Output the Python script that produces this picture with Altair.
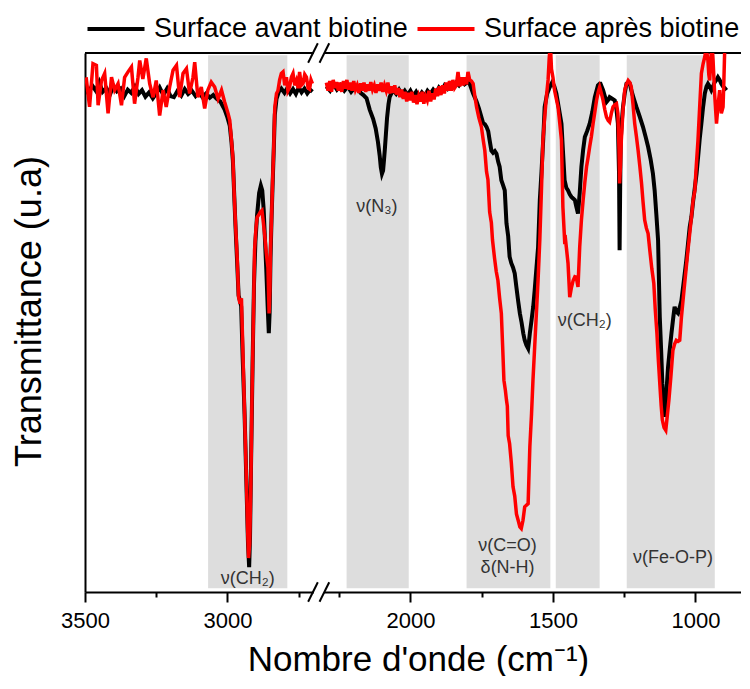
import altair as alt
import pandas as pd

FONT = "Liberation Sans, Arial, sans-serif"

# ---------------- data (wavenumber cm-1, transmittance in arbitrary units 0-100) ----------------
black_wn = [3500, 3488, 3475, 3462, 3450, 3438, 3425, 3412, 3400, 3388, 3375, 3362, 3350, 3338, 3325, 3312,
            3300, 3288, 3275, 3262, 3250, 3238, 3225, 3212, 3200, 3188, 3175, 3162, 3150, 3138, 3125, 3112,
            3100, 3088, 3075, 3062, 3050, 3038, 3025, 3010, 3000, 2992, 2986, 2981, 2977, 2972, 2969, 2966,
            2961, 2956, 2952, 2947, 2940, 2934, 2928, 2924, 2921, 2917, 2912, 2907, 2902, 2896, 2889, 2883,
            2878, 2873, 2869, 2864, 2859, 2855, 2852, 2849, 2845, 2842, 2838, 2834, 2828, 2820, 2811, 2800,
            2790, 2780, 2770, 2760, 2750, 2740, 2730, 2720, 2710, 2702,
            2295, 2282, 2270, 2258, 2245, 2232, 2220, 2208, 2195, 2184, 2175, 2165, 2154, 2143, 2131, 2122,
            2114, 2108, 2104, 2100, 2096, 2093, 2090, 2086, 2082, 2077, 2073, 2067, 2061, 2050, 2040, 2030,
            2020, 2010, 2000, 1990, 1980, 1970, 1960, 1950, 1940, 1930, 1920, 1910, 1900, 1890, 1880, 1870,
            1860, 1850, 1840, 1830, 1820, 1810, 1800, 1792, 1780, 1768, 1760, 1751, 1745, 1739, 1733, 1727,
            1722, 1716, 1710, 1704, 1698, 1692, 1687, 1681, 1675, 1669, 1663, 1657, 1652, 1646, 1640, 1634,
            1628, 1622, 1616, 1610, 1604, 1599, 1593, 1587, 1584, 1581, 1575, 1569, 1564, 1558, 1552, 1546,
            1540, 1534, 1529, 1520, 1511, 1502, 1495, 1488, 1480, 1470, 1465, 1459, 1453, 1447, 1441, 1435,
            1429, 1423, 1418, 1412, 1406, 1400, 1394, 1388, 1380, 1371, 1362, 1353, 1347, 1342, 1336, 1333,
            1324, 1318, 1312, 1306, 1301, 1292, 1283, 1277, 1272, 1268, 1266, 1264, 1262, 1258, 1254, 1248,
            1242, 1236, 1230, 1225, 1216, 1207, 1196, 1184, 1175, 1166, 1157, 1149, 1143, 1137, 1131, 1128,
            1125, 1120, 1116, 1112, 1108, 1104, 1100, 1096, 1090, 1084, 1078, 1073, 1067, 1061, 1055, 1049,
            1040, 1032, 1020, 1014, 1008, 1002, 996, 990, 985, 979, 973, 967, 961, 956, 950, 944,
            938, 932, 926, 921, 915, 909, 903, 897, 891]
black_t = [93.8, 92.5, 94.0, 93.0, 94.6, 92.8, 93.5, 92.3, 93.9, 92.9, 93.4, 92.0, 93.2, 92.6, 93.8, 92.4,
           93.1, 91.9, 92.7, 91.6, 92.5, 93.6, 92.2, 93.4, 92.0, 91.8, 93.0, 92.1, 93.3, 92.4, 93.0, 92.0,
           92.7, 91.8, 92.5, 91.7, 92.2, 91.5, 91.0, 89.5, 88.0, 86.5, 83.5, 80.0, 74.5, 68.0, 64.5, 61.0,
           55.0, 54.0, 53.0, 44.0, 33.0, 21.0, 9.0, 4.6, 10.0, 25.0, 42.0, 57.0, 65.0, 70.0, 74.0, 75.4,
           74.5, 71.0, 66.0, 60.0, 53.0, 48.0, 52.0, 62.0, 70.0, 75.0, 81.5, 88.5, 91.5, 92.8, 93.4, 92.6,
           93.5, 92.5, 93.3, 92.4, 93.6, 92.7, 93.4, 92.5, 93.2, 92.8,
           93.8, 93.0, 94.2, 93.2, 94.0, 93.0, 93.8, 92.8, 93.6, 93.4, 92.6, 92.2, 91.6, 89.5, 87.8, 86.0,
           83.5, 81.0, 78.8, 77.6, 78.2, 80.0, 82.0, 85.0, 88.0, 90.5, 91.8, 92.5, 93.1, 92.4, 93.2, 92.3,
           93.0, 92.2, 93.0, 92.0, 92.8, 91.9, 92.7, 92.0, 93.0, 92.4, 93.2, 92.6, 93.6, 93.0, 94.0, 93.4,
           94.3, 93.8, 94.5, 94.0, 94.8, 94.2, 94.6, 94.3, 92.5, 91.0, 89.8, 88.1, 87.0, 86.8, 86.3, 85.5,
           83.8, 81.9, 81.5, 81.8, 81.3, 79.8, 78.9, 76.4, 75.5, 74.5, 68.4, 66.0, 62.2, 61.0, 60.2, 59.1,
           56.5, 54.0, 51.7, 50.0, 48.0, 46.7, 45.8, 45.2, 46.5, 48.0, 50.4, 53.0, 56.0, 60.0, 64.0, 72.7,
           78.0, 84.0, 90.0, 92.5, 93.7, 94.6, 93.8, 92.5, 90.0, 86.9, 82.0, 76.4, 75.0, 74.5, 73.8, 73.3,
           73.0, 72.7, 71.5, 70.2, 74.0, 78.9, 82.0, 84.4, 85.5, 86.9, 89.0, 91.8, 93.0, 94.0, 94.3, 94.3,
           93.1, 92.0, 90.9, 91.3, 91.8, 91.5, 91.2, 89.5, 86.9, 77.6, 63.4, 75.0, 83.8, 87.5, 90.0, 92.5,
           94.3, 94.5, 94.3, 93.1, 91.5, 90.0, 88.3, 86.3, 84.5, 82.6, 80.2, 77.6, 74.5, 70.0, 65.3, 58.0,
           51.0, 44.5, 38.7, 35.5, 32.5, 35.0, 38.5, 41.7, 45.0, 48.0, 50.8, 52.9, 52.0, 51.7, 52.8, 54.1,
           58.0, 61.5, 67.7, 69.6, 72.5, 75.0, 77.6, 81.0, 84.0, 86.9, 90.0, 92.5, 93.8, 94.3, 93.8, 93.1,
           93.8, 94.6, 95.0, 95.5, 95.0, 94.3, 93.8, 93.5, 93.1]

red_wn = [3496, 3484, 3472, 3460, 3454, 3442, 3431, 3419, 3407, 3396, 3384, 3372, 3361, 3349, 3337, 3326,
          3314, 3308, 3297, 3285, 3273, 3261, 3250, 3238, 3226, 3215, 3203, 3191, 3179, 3168, 3156, 3144,
          3133, 3121, 3115, 3104, 3092, 3080, 3069, 3057, 3045, 3033, 3021, 3010, 2998, 2992, 2986, 2981,
          2977, 2972, 2969, 2966, 2961, 2956, 2951, 2946, 2940, 2934, 2929, 2926, 2922, 2918, 2914, 2910,
          2905, 2900, 2896, 2890, 2885, 2879, 2874, 2869, 2864, 2858, 2854, 2851, 2849, 2845, 2842, 2838,
          2834, 2828, 2823, 2817, 2811, 2805, 2799, 2793, 2788, 2782, 2776, 2770, 2764, 2758, 2752, 2747,
          2741, 2735, 2729, 2723, 2717, 2712, 2707, 2702,
          2295, 2289, 2283, 2277, 2271, 2265, 2259, 2253, 2247, 2241, 2235, 2229, 2223, 2217, 2211, 2205,
          2199, 2193, 2187, 2181, 2175, 2169, 2163, 2157, 2151, 2145, 2139, 2133, 2127, 2121, 2115, 2109,
          2103, 2097, 2091, 2085, 2079, 2073, 2067, 2061, 2055, 2049, 2043, 2037, 2031, 2025, 2019, 2013,
          2007, 2001, 1995, 1989, 1983, 1977, 1971, 1965, 1959, 1953, 1947, 1941, 1935, 1929, 1923, 1917,
          1911, 1905, 1899, 1893, 1887, 1881, 1875, 1869, 1863, 1857, 1851, 1845, 1839, 1833, 1827, 1821,
          1815, 1809, 1803, 1798, 1792, 1786, 1780, 1774, 1768, 1760, 1751, 1745, 1739, 1733, 1728, 1722,
          1716, 1712, 1705, 1699, 1693, 1687, 1681, 1676, 1672, 1667, 1663, 1660, 1657, 1652, 1646, 1640,
          1634, 1628, 1622, 1616, 1611, 1605, 1599, 1593, 1587, 1581, 1575, 1570, 1564, 1558, 1552, 1546,
          1540, 1535, 1529, 1523, 1517, 1513, 1511, 1508, 1505, 1500, 1494, 1488, 1482, 1476, 1470, 1465,
          1459, 1456, 1453, 1447, 1441, 1435, 1429, 1423, 1418, 1412, 1406, 1400, 1394, 1388, 1382, 1377,
          1371, 1365, 1359, 1353, 1347, 1341, 1336, 1330, 1324, 1318, 1312, 1306, 1301, 1295, 1289, 1283,
          1277, 1272, 1268, 1266, 1263, 1260, 1254, 1248, 1242, 1236, 1230, 1225, 1219, 1213, 1207, 1201,
          1195, 1189, 1184, 1178, 1172, 1166, 1160, 1153, 1146, 1141, 1135, 1130, 1125, 1120, 1116, 1110,
          1104, 1099, 1093, 1086, 1079, 1073, 1067, 1061, 1055, 1049, 1040, 1032, 1026, 1020, 1014, 1008,
          1002, 997, 991, 985, 979, 973, 967, 962, 956, 953, 950, 947, 944, 941, 938, 932,
          926, 921, 915, 909, 903, 900, 897]
red_t = [95.5, 90.0, 98.0, 97.7, 90.3, 94.9, 96.2, 88.8, 95.5, 93.1, 94.3, 90.3, 95.5, 96.5, 97.4, 90.6,
         95.5, 98.6, 95.2, 99.0, 94.3, 91.8, 94.9, 88.4, 93.1, 90.0, 93.7, 96.8, 97.7, 91.8, 96.2, 97.1,
         92.5, 95.5, 98.3, 91.8, 93.7, 89.7, 93.1, 94.6, 93.7, 91.5, 93.1, 90.9, 88.8, 87.5, 83.8, 80.6,
         74.5, 68.4, 65.3, 62.0, 54.7, 53.5, 54.5, 44.8, 33.0, 21.5, 11.0, 6.3, 9.0, 20.0, 36.0, 48.0,
         63.4, 67.5, 69.5, 70.0, 70.5, 70.8, 68.5, 66.0, 63.0, 60.2, 51.7, 56.0, 63.4, 70.0, 75.7, 81.9,
         89.9, 92.5, 93.0, 95.0, 96.2, 96.5, 94.0, 95.5, 93.0, 93.7, 95.5, 96.2, 94.0, 94.9, 93.5, 96.5,
         94.0, 94.3, 96.0, 95.5, 93.5, 93.3, 95.0, 94.3,
         94.5, 93.0, 94.8, 92.8, 95.0, 93.5, 94.6, 93.0, 94.5, 92.8, 94.8, 93.4, 95.0, 93.2, 94.5, 93.0,
         94.8, 93.2, 94.0, 92.6, 94.4, 93.0, 94.5, 92.8, 94.2, 93.0, 94.6, 93.2, 94.0, 92.6, 94.2, 93.0,
         94.5, 92.8, 94.0, 93.0, 94.5, 92.5, 93.8, 92.6, 94.0, 92.3, 93.5, 91.8, 93.2, 91.5, 92.8, 91.0,
         92.6, 91.2, 92.8, 90.8, 92.2, 90.5, 92.0, 91.0, 92.8, 90.6, 92.0, 91.2, 93.0, 91.0, 92.5, 91.4,
         93.4, 92.0, 93.8, 92.2, 94.0, 92.5, 94.5, 93.0, 94.8, 93.0, 95.0, 93.5, 94.0, 96.5, 93.8, 95.5,
         94.0, 95.5, 94.2, 96.5, 95.0, 94.8, 94.3, 92.0, 90.0, 88.0, 86.3, 84.0, 81.9, 78.0, 76.5, 70.5,
         68.5, 65.3, 62.0, 59.5, 57.8, 54.5, 51.7, 45.0, 39.3, 37.5, 35.6, 34.5, 29.0, 27.5, 24.0, 19.5,
         17.8, 14.5, 13.3, 12.1, 11.8, 13.3, 15.8, 16.1, 16.4, 26.9, 33.1, 39.3, 45.5, 51.7, 58.0, 65.3,
         75.0, 83.8, 88.0, 91.8, 95.0, 99.0, 100.5, 100.5, 97.0, 95.5, 93.0, 91.5, 90.0, 87.0, 83.8, 71.4,
         65.3, 65.5, 64.0, 61.0, 54.7, 56.5, 57.8, 58.5, 58.4, 56.6, 64.0, 69.0, 72.7, 76.0, 78.9, 80.5,
         82.6, 84.5, 86.9, 89.0, 91.2, 92.8, 93.7, 92.5, 91.2, 89.5, 88.1, 87.5, 87.2, 88.8, 90.0, 90.4,
         90.6, 88.8, 82.0, 75.8, 79.0, 83.8, 89.5, 93.1, 94.2, 94.9, 94.5, 93.7, 90.5, 86.9, 84.5, 81.9,
         79.0, 75.8, 72.5, 69.0, 67.5, 66.5, 63.4, 60.0, 57.3, 52.5, 48.0, 43.0, 38.7, 34.5, 31.9, 30.5,
         30.0, 32.5, 35.6, 40.0, 44.8, 46.0, 46.7, 46.5, 46.7, 51.0, 56.0, 60.3, 63.5, 66.5, 69.5, 72.7,
         74.5, 79.0, 83.8, 90.0, 96.2, 98.0, 99.3, 101.0, 98.6, 96.0, 94.9, 97.5, 100.5, 101.0, 98.6, 92.0,
         86.9, 90.0, 93.1, 88.8, 90.0, 95.0, 101.0]

series_names = ["Surface avant biotine", "Surface après biotine"]
series_colors = ["#000000", "#ff0000"]

# shaded regions (cm-1)
band_start = [3068, 2224, 1803, 1490, 1241]
band_end = [2790, 2006, 1509, 1336, 932]

# peak assignments
ann_text = ["ν(CH₂)", "ν(N₃)", "ν(CH₂)", "ν(C=O)", "δ(N-H)", "ν(Fe-O-P)"]
ann_wn = [2929, 2118, 1388, 1659, 1659, 1079]
ann_t = [2.5, 71.5, 50.2, 8.5, 4.4, 6.4]

# axis ticks
tick_wn = [3500, 3250, 3000, 2750, 2250, 2000, 1750, 1500, 1250, 1000]
major_wn = [3500, 3000, 2000, 1500, 1000]

# broken axis: 3500-2700 | 2300-...
LEFT_END, RIGHT_START, GAP = 2700, 2300, 42
BREAK_WN = 2500


def to_pos(w):
    if w >= BREAK_WN:
        return 3500 - w
    return (3500 - LEFT_END) + GAP + (RIGHT_START - w)


X_MAX = 2302
x_scale = alt.Scale(domain=[0, X_MAX], nice=False, zero=False)
y_scale = alt.Scale(domain=[0, 100], nice=False, zero=False)


def make_df(wn, t, name):
    return pd.DataFrame({
        "pos": [to_pos(w) for w in wn],
        "wn": wn,
        "t": t,
        "series": name,
        "seg": ["L" if w >= BREAK_WN else "R" for w in wn],
    })


df_black = make_df(black_wn, black_t, series_names[0])
df_red = make_df(red_wn, red_t, series_names[1])

df_bands = pd.DataFrame({"x0": [to_pos(w) for w in band_start], "x1": [to_pos(w) for w in band_end]})
df_ann = pd.DataFrame({"pos": [to_pos(w) for w in ann_wn], "t": ann_t, "label": ann_text})

tick_pos = [to_pos(w) for w in tick_wn]
major_pos = [to_pos(w) for w in major_wn]
label_map = " : ".join(f"datum.value == {p} ? '{w}'" for p, w in zip(major_pos, major_wn)) + " : ''"
major_test = "indexof([" + ",".join(str(p) for p in major_pos) + "], datum.value) >= 0"

# axis-break marks
bc = (to_pos(LEFT_END) + to_pos(RIGHT_START)) / 2.0
df_break = pd.DataFrame({
    "x0": [bc - 38, bc + 2, bc - 38, bc + 2],
    "x1": [bc - 4, bc + 36, bc - 4, bc + 36],
    "y0": [-1.8, -1.8, 98.2, 98.2],
    "y1": [1.8, 1.8, 101.8, 101.8],
})
df_gap = pd.DataFrame({"x0": [bc - 18, bc - 18], "x1": [bc + 18, bc + 18], "y": [0, 100]})
df_frame = pd.DataFrame({"x0": [0], "x1": [X_MAX], "y": [100]})

x_axis = alt.Axis(
    values=tick_pos, labelExpr=label_map, grid=False,
    tickSize={"condition": {"test": major_test, "value": 10}, "value": 5},
    tickWidth=2, tickColor="black", domainColor="black", domainWidth=2,
    labelFont=FONT, labelFontSize=22, labelColor="black", labelPadding=8,
    labelFlush=False, labelOverlap=False,
    title="Nombre d'onde (cm⁻¹)", titleFont=FONT, titleFontSize=35, titleFontWeight="normal",
    titleColor="black", titleX=333, titleY=78, titleBaseline="alphabetic", titleAlign="center",
)
y_axis = alt.Axis(
    labels=False, ticks=False, grid=False, domainColor="black", domainWidth=2,
    title="Transmittance (u.a)", titleFont=FONT, titleFontSize=36, titleFontWeight="normal",
    titleColor="black", titleX=-45, titleY=258, titleBaseline="alphabetic", titleAlign="center",
)

color = alt.Color(
    "series:N",
    scale=alt.Scale(domain=series_names, range=series_colors),
    legend=alt.Legend(
        orient="none", legendX=0, legendY=-55, direction="horizontal", title=None,
        symbolType="stroke", symbolSize=3250, symbolStrokeWidth=4,
        labelFont=FONT, labelFontSize=27, labelColor="black", labelOffset=7,
        columnPadding=1, padding=0, labelLimit=500,
    ),
)

bands = alt.Chart(df_bands).mark_rect(color="#dddddd").encode(
    x=alt.X("x0:Q", scale=x_scale, axis=x_axis),
    x2="x1:Q",
    y=alt.datum(99.6, scale=y_scale, axis=y_axis),
    y2=alt.datum(0.7),
)

frame = alt.Chart(df_frame).mark_rule(color="black", strokeWidth=2).encode(
    x=alt.X("x0:Q", scale=x_scale), x2="x1:Q", y=alt.Y("y:Q", scale=y_scale)
)

black_line = alt.Chart(df_black).mark_line(strokeWidth=4, clip=True).encode(
    x=alt.X("pos:Q", scale=x_scale),
    y=alt.Y("t:Q", scale=y_scale),
    color=color,
    detail="seg:N",
    order="pos:Q",
)
red_line = alt.Chart(df_red).mark_line(strokeWidth=3.5, clip=True).encode(
    x=alt.X("pos:Q", scale=x_scale),
    y=alt.Y("t:Q", scale=y_scale),
    color=color,
    detail="seg:N",
    order="pos:Q",
)

ann = alt.Chart(df_ann).mark_text(font=FONT, fontSize=18, color="#333333", align="center", baseline="middle").encode(
    x=alt.X("pos:Q", scale=x_scale),
    y=alt.Y("t:Q", scale=y_scale),
    text="label:N",
)

gap = alt.Chart(df_gap).mark_rule(color="white", strokeWidth=5).encode(
    x=alt.X("x0:Q", scale=x_scale), x2="x1:Q", y=alt.Y("y:Q", scale=y_scale)
)
breaks = alt.Chart(df_break).mark_rule(color="black", strokeWidth=2).encode(
    x=alt.X("x0:Q", scale=x_scale), x2="x1:Q",
    y=alt.Y("y0:Q", scale=y_scale), y2="y1:Q",
)

chart = alt.layer(bands, frame, black_line, red_line, ann, gap, breaks).properties(
    width=656, height=539,
    padding={"left": 77, "top": 45, "right": 0, "bottom": 84},
    autosize=alt.AutoSizeParams(type="none"),
).configure_view(stroke=None).configure(font=FONT)

chart.save("out.html", embed_options={"renderer": "svg", "actions": False})
